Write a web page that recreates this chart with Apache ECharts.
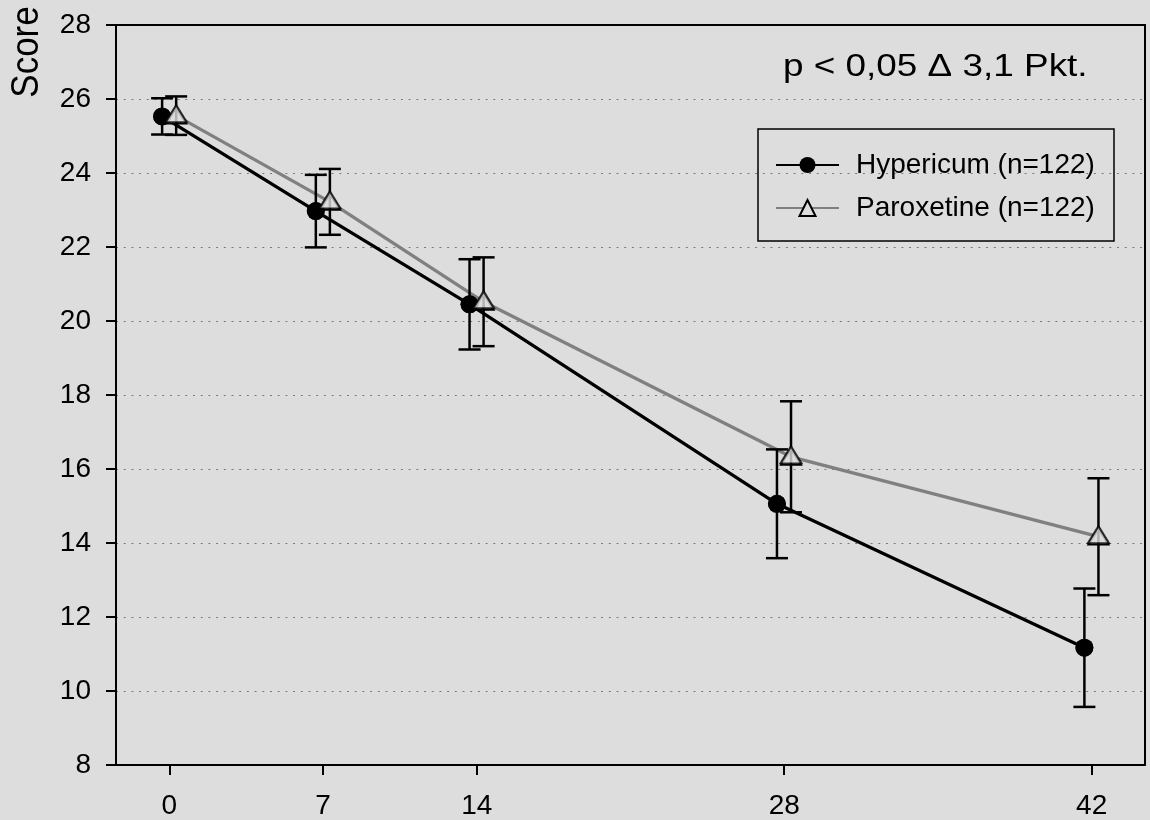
<!DOCTYPE html>
<html><head><meta charset="utf-8">
<script src="https://cdn.jsdelivr.net/npm/echarts@6/dist/echarts.min.js"></script>
<style>html,body{margin:0;padding:0;background:#dddddd}#c{width:1150px;height:820px}</style>
</head><body><div id="c"></div><script>
// ---- data ----
const days = [0, 7, 14, 28, 42];
const xTicks = [0, 7, 14, 28, 42];
const hypericumMean = [25.53, 22.97, 20.45, 15.06, 11.17];
const hypericumErr  = [0.49, 0.98, 1.22, 1.47, 1.60];
const paroxetineMean = [25.55, 23.22, 20.52, 16.33, 14.17];
const paroxetineErr  = [0.52, 0.89, 1.20, 1.50, 1.58];
const seriesNames = ['Hypericum (n=122)', 'Paroxetine (n=122)'];
const yTitle = 'Score';
const annotation = 'p < 0,05 \u0394 3,1 Pkt.';

// ---- style ----
const FONT = '"Liberation Sans", Arial, sans-serif';
const BG = '#dddddd';
const hypShift = -0.33, parShift = 0.31; // horizontal dodge (days)

const pts = (mean, shift) => days.map((d, i) => [d + shift, mean[i]]);
const errs = (mean, err, shift) => days.map((d, i) => [d + shift, mean[i] - err[i], mean[i] + err[i]]);

function errRender(params, api) {
  const x = api.value(0), lo = api.value(1), hi = api.value(2);
  const a = api.coord([x, hi]), b = api.coord([x, lo]);
  const cap = 11;
  const st = { stroke: '#000', lineWidth: 2.5 };
  return { type: 'group', children: [
    { type: 'line', shape: { x1: a[0], y1: a[1], x2: b[0], y2: b[1] }, style: st },
    { type: 'line', shape: { x1: a[0] - cap, y1: a[1], x2: a[0] + cap, y2: a[1] }, style: st },
    { type: 'line', shape: { x1: b[0] - cap, y1: b[1], x2: b[0] + cap, y2: b[1] }, style: st }
  ]};
}

const frameAxis = { show: true, onZero: false, lineStyle: { color: '#000', width: 2 } };

const chart = echarts.init(document.getElementById('c'), null, { renderer: 'canvas' });
chart.setOption({
  animation: false,
  backgroundColor: BG,
  grid: { left: 116, right: 5, top: 25, bottom: 54, show: false },
  xAxis: [{
    type: 'value', min: -2.43, max: 44.43,
    axisLine: frameAxis,
    axisTick: { show: true, inside: false, length: 10, customValues: xTicks, lineStyle: { color: '#000', width: 2 } },
    axisLabel: { customValues: xTicks, margin: 27, color: '#000', fontSize: 28, fontFamily: FONT },
    splitLine: { show: false }
  }, {
    type: 'value', position: 'top', min: -2.43, max: 44.43,
    axisLine: frameAxis, axisTick: { show: false }, axisLabel: { show: false }, splitLine: { show: false }
  }],
  yAxis: [{
    type: 'value', min: 8, max: 28, interval: 2,
    axisLine: frameAxis,
    axisTick: { show: true, inside: false, length: 10, lineStyle: { color: '#000', width: 2 } },
    axisLabel: { margin: 25, color: '#000', fontSize: 28, fontFamily: FONT },
    splitLine: { show: true, lineStyle: { color: '#7a7a7a', width: 1, type: [2, 5.7] } }
  }, {
    type: 'value', position: 'right', min: 8, max: 28, interval: 2,
    axisLine: frameAxis, axisTick: { show: false }, axisLabel: { show: false }, splitLine: { show: false }
  }],
  legend: {
    orient: 'vertical', left: 758, top: 129,
    data: seriesNames, selectedMode: false,
    itemWidth: 63, itemHeight: 20, itemGap: 15,
    padding: [22, 18, 19, 17],
    borderColor: '#000', borderWidth: 1.5, backgroundColor: 'transparent',
    textStyle: { color: '#000', fontSize: 28, fontFamily: FONT, lineHeight: 20, width: 240, padding: [0, 0, 0, 12] }
  },
  graphic: [
    { type: 'text', x: 27, y: 52, rotation: Math.PI / 2, scaleY: 1.12,
      style: { text: yTitle, font: '35px ' + FONT, fill: '#000', align: 'center', verticalAlign: 'middle' } },
    { type: 'text', x: 783, y: 67, scaleX: 1.19,
      style: { text: annotation, font: '31px ' + FONT, fill: '#000', align: 'left', verticalAlign: 'middle' } }
  ],
  series: [
    { name: seriesNames[0], type: 'line', z: 2, data: pts(hypericumMean, hypShift),
      symbol: 'circle', symbolSize: 18, showSymbol: true,
      lineStyle: { color: '#000', width: 3.3 }, itemStyle: { color: '#000' }, emphasis: { disabled: true } },
    { name: seriesNames[1], type: 'line', z: 2, data: pts(paroxetineMean, parShift),
      symbol: 'triangle', symbolSize: [20, 16], showSymbol: true,
      lineStyle: { color: '#808080', width: 3.3 }, itemStyle: { color: BG, borderColor: '#000', borderWidth: 2 }, emphasis: { disabled: true } },
    { type: 'custom', z: 3, renderItem: errRender, data: errs(hypericumMean, hypericumErr, hypShift), encode: { x: 0, y: [1, 2] } },
    { type: 'custom', z: 3, renderItem: errRender, data: errs(paroxetineMean, paroxetineErr, parShift), encode: { x: 0, y: [1, 2] } },
    { type: 'scatter', z: 4, data: pts(hypericumMean, hypShift), symbol: 'circle', symbolSize: 18,
      itemStyle: { color: '#000' }, emphasis: { disabled: true } },
    { type: 'scatter', z: 4, data: pts(paroxetineMean, parShift), symbol: 'triangle', symbolSize: [21, 17], symbolOffset: [0, -2],
      itemStyle: { color: BG, borderColor: '#000', borderWidth: 2 }, emphasis: { disabled: true } }
  ]
});
</script></body></html>
